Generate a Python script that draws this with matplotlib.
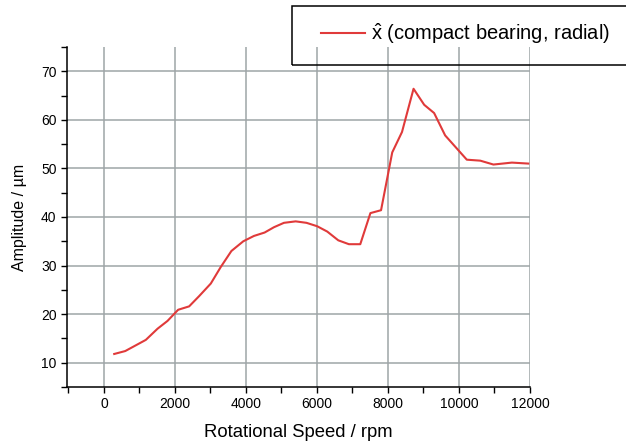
import matplotlib
matplotlib.use('Agg')
from matplotlib import pyplot as plt
from matplotlib.patches import Rectangle
from matplotlib.ticker import MultipleLocator

plt.rcParams['font.family'] = ['Liberation Sans', 'DejaVu Sans']
plt.rcParams['mathtext.fontset'] = 'custom'
plt.rcParams['mathtext.rm'] = 'Liberation Sans'
plt.rcParams['mathtext.sf'] = 'Liberation Sans'

# data
speed = [290, 600, 1180, 1510, 1790, 2090, 2400, 2680, 3010, 3290, 3590, 3925,
         4225, 4525, 4790, 5070, 5400, 5705, 6005, 6290, 6600, 6900, 7220,
         7505, 7805, 8120, 8395, 8720, 9020, 9300, 9610, 10220, 10600, 10970,
         11490, 11950]
amplitude = [11.8, 12.4, 14.7, 17.0, 18.6, 20.9, 21.6, 23.7, 26.3, 29.7, 33.0,
             35.0, 36.1, 36.8, 37.9, 38.8, 39.1, 38.8, 38.1, 37.0, 35.2, 34.4,
             34.4, 40.8, 41.4, 53.3, 57.5, 66.4, 63.1, 61.4, 56.8, 51.8, 51.6,
             50.8, 51.2, 51.0]

fig = plt.figure(figsize=(6.26, 4.43), dpi=100)
ax = fig.add_axes([67 / 626, 1 - 387 / 443, (530 - 67) / 626, (387 - 47) / 443])

ax.grid(True, color='#9ea5a7', lw=1.1)
ax.set_axisbelow(True)
line, = ax.plot(speed, amplitude, color='#e03a3a', lw=1.5,
                label='$\\hat{\\mathrm{x}}$ (compact bearing, radial)')

ax.set_xlim(-1040, 12000)
ax.set_ylim(5, 75)
ax.xaxis.set_major_locator(MultipleLocator(2000))
ax.xaxis.set_minor_locator(MultipleLocator(1000))
ax.yaxis.set_major_locator(MultipleLocator(10))
ax.yaxis.set_minor_locator(MultipleLocator(5))
ax.tick_params(which='both', direction='out', length=4, width=1, labelsize=10)
ax.spines['top'].set_visible(False)
ax.spines['right'].set_visible(False)
for s in ['left', 'bottom']:
    ax.spines[s].set_linewidth(1.1)

ax.set_xlabel('Rotational Speed / rpm', fontsize=13.3, labelpad=9)
ax.set_ylabel('Amplitude / µm', fontsize=11.5, labelpad=10)

# legend box runs off the right edge of the figure
fig.patches.append(Rectangle((292 / 626, 1 - 65 / 443), 0.6, 59 / 443,
                             transform=fig.transFigure, fill=False,
                             edgecolor='black', lw=1.1))
fig.legend(handles=[line], loc='center left', frameon=False, fontsize=14.5,
           bbox_to_anchor=(303 / 626, 1 - 34 / 443), handlelength=2.2,
           handletextpad=0.3)

fig.savefig('out.png', dpi=100)
